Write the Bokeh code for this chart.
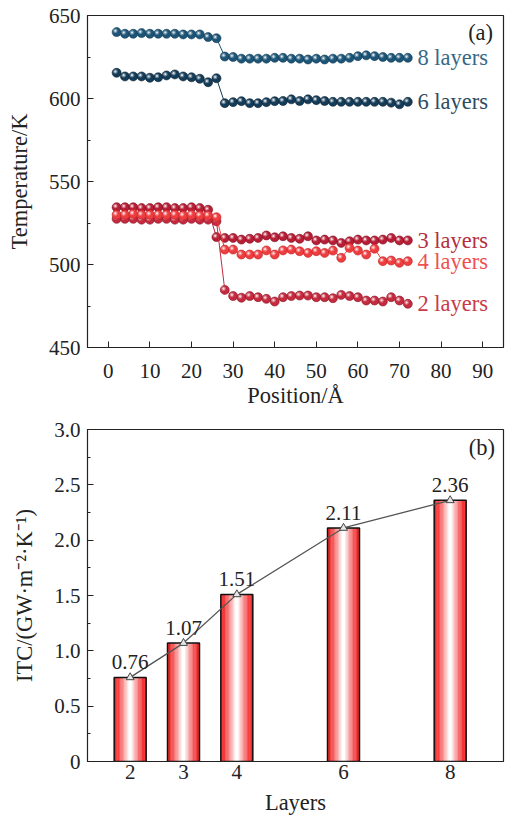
from bokeh.plotting import figure
from bokeh.layouts import column
from bokeh.models import Range1d, FixedTicker, Label, LabelSet, ColumnDataSource
from bokeh.core.properties import value
from bokeh.embed import file_html
from bokeh.resources import INLINE

FONT = "Liberation Serif"

# ---------------- data: panel (a) ----------------
position = [2, 4, 6, 8, 10, 12, 14, 16, 18, 20, 22, 24, 26, 28, 30, 32, 34, 36,
            38, 40, 42, 44, 46, 48, 50, 52, 54, 56, 58, 60, 62, 64, 66, 68, 70, 72]

temp_8 = [640, 639, 639, 639.4, 639, 639, 639, 639, 638.6, 638.6, 638.6, 637, 636.3,
          625.3, 625, 624, 624, 624, 624, 624.5, 624.5, 624, 624, 623.5, 624, 623.5,
          624, 624, 624.5, 625.5, 626, 625.5, 625, 624.5, 624.5, 624.5]
temp_6 = [615.5, 613.3, 613.3, 613.3, 612.5, 612.8, 613.9, 614.5, 613.3, 612.8, 611.9, 609.8, 612.2,
          597.2, 597.8, 598.4, 597.2, 597.2, 597.8, 598.4, 598.5, 599.5, 598.5, 599.5, 599,
          598.5, 598, 598, 598, 598, 598, 598, 598, 597.5, 596.5, 598]
temp_3 = [534.5, 534.5, 534.5, 534, 534, 534.5, 534.5, 534, 534, 534.5, 534, 533, 516.5,
          516, 516, 515, 515.5, 516, 517.5, 516.4, 517, 516, 515.5, 517, 514.5, 515,
          514.5, 513, 514, 515, 514.5, 514.5, 515, 516, 514.5, 514.5]
temp_4 = [530, 530, 530.5, 530, 530, 530, 530, 530, 529.5, 530, 529.5, 529.5, 528.5,
          509, 509, 506, 506, 506, 508.5, 506, 508.5, 509, 508, 507, 508, 507,
          508.4, 504, 510, 508.4, 506, 509.5, 502, 502.4, 501, 502]
temp_2 = [527.5, 527.5, 527.5, 527, 527, 527.5, 527.5, 527, 527, 527.5, 527, 527, 526,
          484.7, 481, 480, 481, 480.3, 479.3, 477.7, 480.3, 481, 481.3, 481.3, 480.3,
          480.3, 479.7, 481.7, 481, 480.3, 478.3, 478.3, 477.7, 480.3, 478.3, 476.3]

series_names = ["3 layers", "2 layers", "4 layers", "6 layers", "8 layers"]
series_temps = [temp_3, temp_2, temp_4, temp_6, temp_8]
series_colors = ["#b71d35", "#c52a3e", "#ee3d3f", "#143c58", "#1c5577"]
series_edge = ["#7e0f20", "#8a1626", "#c42224", "#0b2436", "#113a55"]
label_colors = ["#b3303f", "#c93a49", "#ef4f51", "#2b4c63", "#366887"]

x_ticks_a = [0, 10, 20, 30, 40, 50, 60, 70, 80, 90]
y_ticks_a = [450, 500, 550, 600, 650]
y_minor_a = [475, 525, 575, 625]

# ---------------- data: panel (b) ----------------
layers = [2, 3, 4, 6, 8]
itc = [0.76, 1.07, 1.51, 2.11, 2.36]
itc_labels = ["0.76", "1.07", "1.51", "2.11", "2.36"]
y_ticks_b = [0, 0.5, 1.0, 1.5, 2.0, 2.5, 3.0]
y_tick_labels_b = ["0", "0.5", "1.0", "1.5", "2.0", "2.5", "3.0"]
y_minor_b = [0.25, 0.75, 1.25, 1.75, 2.25, 2.75]

TXT = "#222222"
NUM_SIZE = "21px"
WORD_SIZE = "22.5px"


def style_axis(ax):
    ax.major_label_text_font = FONT
    ax.major_label_text_font_size = NUM_SIZE
    ax.major_label_text_color = TXT
    ax.axis_label_text_font = FONT
    ax.axis_label_text_font_size = WORD_SIZE
    ax.axis_label_text_font_style = "normal"
    ax.axis_label_text_color = TXT
    ax.major_tick_in = 6
    ax.major_tick_out = 0
    ax.minor_tick_in = 3
    ax.minor_tick_out = 0
    ax.axis_line_color = TXT
    ax.major_tick_line_color = TXT
    ax.minor_tick_line_color = TXT


# ---------------- panel (a) ----------------
p1 = figure(width=505, height=410, x_range=Range1d(-5, 95), y_range=Range1d(450, 650),
            output_backend="svg", toolbar_location=None,
            min_border_left=87, min_border_right=2, min_border_top=15, min_border_bottom=63)
p1.grid.visible = False
p1.outline_line_color = TXT
p1.outline_line_width = 1.2
p1.background_fill_color = "white"
p1.border_fill_color = "white"

p1.xaxis.ticker = FixedTicker(ticks=x_ticks_a, minor_ticks=[])
p1.yaxis.ticker = FixedTicker(ticks=y_ticks_a, minor_ticks=y_minor_a)
p1.xaxis.axis_label = "Position/Å"
p1.yaxis.axis_label = "Temperature/K"
style_axis(p1.xaxis[0])
style_axis(p1.yaxis[0])
p1.xaxis.major_label_standoff = 16
p1.xaxis.axis_label_standoff = 2
p1.yaxis.major_label_standoff = 7
p1.yaxis.axis_label_standoff = 14

dx_hi = -0.3
dy_hi = 0.75
for name, temps, col, edge, lcol in zip(series_names, series_temps, series_colors,
                                        series_edge, label_colors):
    p1.line(position, temps, line_color=col, line_width=1)
    p1.scatter(position, temps, size=9, fill_color=col, line_color=edge, line_width=0.6)
    hx = [x + dx_hi for x in position]
    hy = [t + dy_hi for t in temps]
    p1.scatter(hx, hy, size=4.5, fill_color="white", fill_alpha=0.35, line_color=None)
    p1.scatter(hx, hy, size=2.2, fill_color="white", fill_alpha=0.75, line_color=None)
    p1.add_layout(Label(x=position[-1] + 2.3, y=temps[-1], text=name, text_color=lcol,
                        text_font=FONT, text_font_size=WORD_SIZE, text_baseline="middle",
                        text_align="left"))

p1.add_layout(Label(x=92.5, y=640, text="(a)", text_color=TXT, text_font=FONT,
                    text_font_size=WORD_SIZE, text_baseline="middle", text_align="right"))

# ---------------- panel (b) ----------------
p2 = figure(width=505, height=407, x_range=Range1d(1.2, 9.0), y_range=Range1d(0, 3.0),
            output_backend="svg", toolbar_location=None,
            min_border_left=87, min_border_right=2, min_border_top=19, min_border_bottom=55)
p2.grid.visible = False
p2.outline_line_color = TXT
p2.outline_line_width = 1.2
p2.background_fill_color = "white"
p2.border_fill_color = "white"

p2.xaxis.ticker = FixedTicker(ticks=layers, minor_ticks=[])
p2.yaxis.ticker = FixedTicker(ticks=y_ticks_b, minor_ticks=y_minor_b)
p2.yaxis.major_label_overrides = {t: s for t, s in zip(y_ticks_b, y_tick_labels_b)}
p2.xaxis.axis_label = "Layers"
p2.yaxis.axis_label = "ITC/(GW·m⁻²·K⁻¹)"
style_axis(p2.xaxis[0])
style_axis(p2.yaxis[0])
p2.xaxis.major_tick_line_color = None
p2.xaxis.major_label_standoff = 3
p2.xaxis.axis_label_standoff = 8
p2.yaxis.major_label_standoff = 7
p2.yaxis.axis_label_standoff = 14

bar_w = 0.6
N = 40
strip_x, strip_top, strip_col = [], [], []
for lx, v in zip(layers, itc):
    for k in range(N):
        u = (k + 0.5) / N
        strip_x.append(lx - bar_w / 2 + u * bar_w)
        strip_top.append(v)
        t = 1 - abs(2 * u - 1)
        f = min(1.0, (t ** 1.3) * 1.1)
        r = int(240 + (255 - 240) * f)
        g = int(0 + 255 * f)
        b = int(0 + 255 * f)
        strip_col.append("#%02x%02x%02x" % (r, g, b))
p2.vbar(x=strip_x, top=strip_top, bottom=0, width=bar_w / N * 1.15,
        fill_color=strip_col, line_color=None)
p2.vbar(x=layers, top=itc, bottom=0, width=bar_w, fill_color=None,
        line_color="#111111", line_width=1.5)

p2.line(layers, itc, line_color="#555555", line_width=1.3)
p2.scatter(layers, itc, marker="triangle", size=8, fill_color="#e6e6e6",
           line_color="#444444", line_width=1)

src = ColumnDataSource(dict(x=layers, y=itc, t=itc_labels))
p2.add_layout(LabelSet(x="x", y="y", text="t", source=src, y_offset=8,
                       text_align="center", text_baseline="bottom",
                       text_font=value(FONT), text_font_size=value(NUM_SIZE),
                       text_color=TXT))

p2.add_layout(Label(x=8.84, y=2.84, text="(b)", text_color=TXT, text_font=FONT,
                    text_font_size=WORD_SIZE, text_baseline="middle", text_align="right"))

layout = column(p1, p2, spacing=0)
open("out.html", "w").write(file_html(layout, INLINE))
